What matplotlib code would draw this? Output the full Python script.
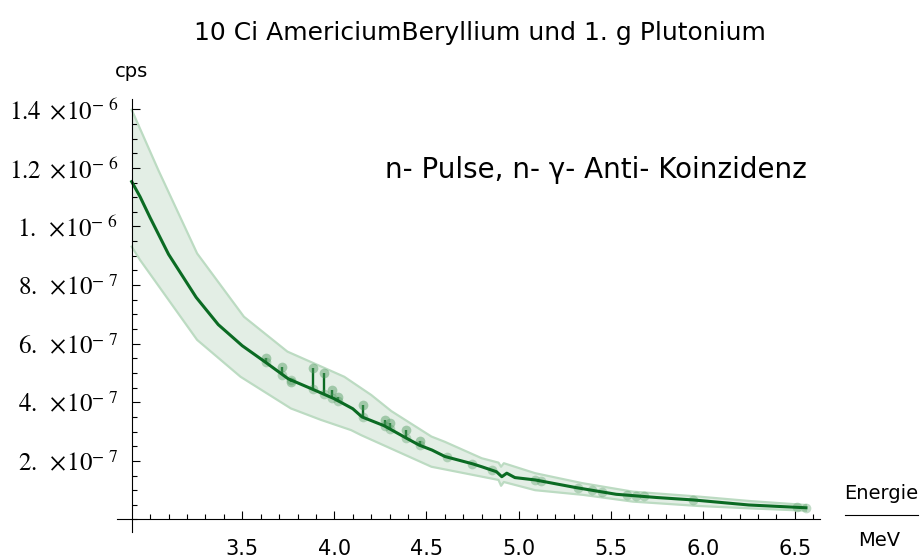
# -*- coding: utf-8 -*-
"""
Neutron count rate spectrum, AmBe source plus plutonium
"""

import numpy as np
import matplotlib.pyplot as plt
from matplotlib.ticker import MultipleLocator, FixedLocator

plt.rcParams['mathtext.fontset'] = 'stix'

# Main curve (MeV, cps in units of 1e-6)
energy = [2.9, 2.945, 3.0, 3.1, 3.25, 3.37, 3.5, 3.63, 3.75, 3.88, 4.0, 4.1,
          4.15, 4.27, 4.39, 4.46, 4.53, 4.6, 4.75, 4.8, 4.88, 4.909, 4.936,
          4.98, 5.09, 5.31, 5.53, 5.75, 5.95, 6.25, 6.56]
rate = [1.153, 1.102, 1.03, 0.905, 0.758, 0.665, 0.593, 0.535, 0.480, 0.445,
        0.412, 0.378, 0.350, 0.320, 0.278, 0.254, 0.237, 0.215, 0.190, 0.180,
        0.163, 0.146, 0.158, 0.143, 0.135, 0.109, 0.086, 0.075, 0.0666,
        0.0495, 0.040]

# Error band
upper_e = [2.9, 3.044, 3.255, 3.509, 3.745, 4.054, 4.2, 4.309, 4.527, 4.6,
           4.8, 4.891, 4.905, 4.92, 5.09, 5.346, 5.62, 5.98, 6.255, 6.56]
upper_r = [1.398, 1.193, 0.908, 0.692, 0.573, 0.487, 0.425, 0.37, 0.283, 0.265,
           0.209, 0.194, 0.180, 0.192, 0.158, 0.124, 0.095, 0.078, 0.063, 0.0495]
lower_e = [2.9, 2.945, 3.255, 3.491, 3.764, 3.927, 4.091, 4.145, 4.527, 4.891,
           4.905, 4.92, 5.09, 5.35, 5.62, 5.98, 6.255, 6.56]
lower_r = [0.931, 0.886, 0.613, 0.487, 0.379, 0.340, 0.305, 0.288, 0.180, 0.135,
           0.115, 0.128, 0.100, 0.084, 0.061, 0.046, 0.038, 0.030]

# Peaks on top of the curve
peak_e = [3.627, 3.718, 3.764, 3.882, 3.945, 3.987, 4.022, 4.155, 4.273, 4.3,
          4.391, 4.464]
peak_r = [0.551, 0.521, 0.47, 0.516, 0.499, 0.442, 0.419, 0.391, 0.340, 0.328,
          0.305, 0.268]

# Extra measured points lying on the curve
dot_e = [4.61, 4.745, 4.855, 5.09, 5.12, 5.32, 5.40, 5.455, 5.59, 5.635,
         5.68, 5.945, 6.51, 6.56]

xticks = [3.5, 4.0, 4.5, 5.0, 5.5, 6.0, 6.5]
ytick_vals = [0.2, 0.4, 0.6, 0.8, 1.0, 1.2, 1.4]
ytick_text = [r'$2.\ \times\!10^{-\ 7}$', r'$4.\ \times\!10^{-\ 7}$',
              r'$6.\ \times\!10^{-\ 7}$', r'$8.\ \times\!10^{-\ 7}$',
              r'$1.\ \times\!10^{-\ 6}$', r'$1.2\ \times\!10^{-\ 6}$',
              r'$1.4\ \times\!10^{-\ 6}$']

line_c = '#0b6b23'
band_c = '#e3eee5'
edge_c = '#bcdbc2'

fig = plt.figure(figsize=(9.21, 5.60), dpi=100)
ax = fig.add_axes([0.127, 0.05, 0.7633, 0.7732])

# Band
grid_e = np.union1d(upper_e, lower_e)
up = np.interp(grid_e, upper_e, upper_r)
lo = np.interp(grid_e, lower_e, lower_r)
ax.fill_between(grid_e, lo, up, color=band_c, lw=0)
ax.plot(upper_e, upper_r, color=edge_c, lw=1.6)
ax.plot(lower_e, lower_r, color=edge_c, lw=1.6)

# Peaks and dots
base = np.interp(peak_e, energy, rate)
ax.vlines(peak_e, base, peak_r, color=line_c, lw=1.7)
ax.plot(peak_e, peak_r, 'o', color='#4f9a5f', alpha=0.45, ms=7, mec='none')
ax.plot(peak_e, base, 'o', color='#4f9a5f', alpha=0.35, ms=7, mec='none')
ax.plot(dot_e, np.interp(dot_e, energy, rate), 'o', color='#4f9a5f',
        alpha=0.35, ms=7, mec='none')

# Main curve
ax.plot(energy, rate, color=line_c, lw=2.2)

ax.set_xlim(2.82, 6.636)
ax.set_ylim(-0.0427, 1.435)

for s in ['top', 'right']:
    ax.spines[s].set_visible(False)
ax.spines['left'].set_position(('data', 2.9))
ax.spines['bottom'].set_position(('data', 0))
for s in ['left', 'bottom']:
    ax.spines[s].set_linewidth(0.8)

ax.xaxis.set_major_locator(FixedLocator(xticks))
ax.xaxis.set_minor_locator(FixedLocator(np.arange(3.0, 6.65, 0.1)))
ax.set_xticklabels(['%.1f' % v for v in xticks], fontsize=15)
ax.yaxis.set_major_locator(FixedLocator(ytick_vals))
ax.yaxis.set_minor_locator(MultipleLocator(0.05))
ax.set_yticklabels(ytick_text, fontsize=18)

ax.tick_params(which='both', direction='in', width=0.8)
ax.tick_params(which='major', length=6)
ax.tick_params(which='minor', length=3.6)
ax.tick_params(axis='x', pad=14)
ax.tick_params(axis='y', pad=10)

fig.text(0.521, 0.941, '10 Ci AmericiumBeryllium und 1. g Plutonium',
         ha='center', va='center', fontsize=18)
fig.text(0.143, 0.873, 'cps', ha='center', va='center', fontsize=14)
fig.text(0.647, 0.696, 'n- Pulse, n- γ- Anti- Koinzidenz',
         ha='center', va='center', fontsize=20)
fig.text(0.957, 0.119, 'Energie', ha='center', va='center', fontsize=14)
fig.text(0.955, 0.034, 'MeV', ha='center', va='center', fontsize=14)
fig.add_artist(plt.Line2D([0.918, 0.997], [0.08, 0.08], color='k', lw=0.8))

plt.savefig('out.png', dpi=100)
